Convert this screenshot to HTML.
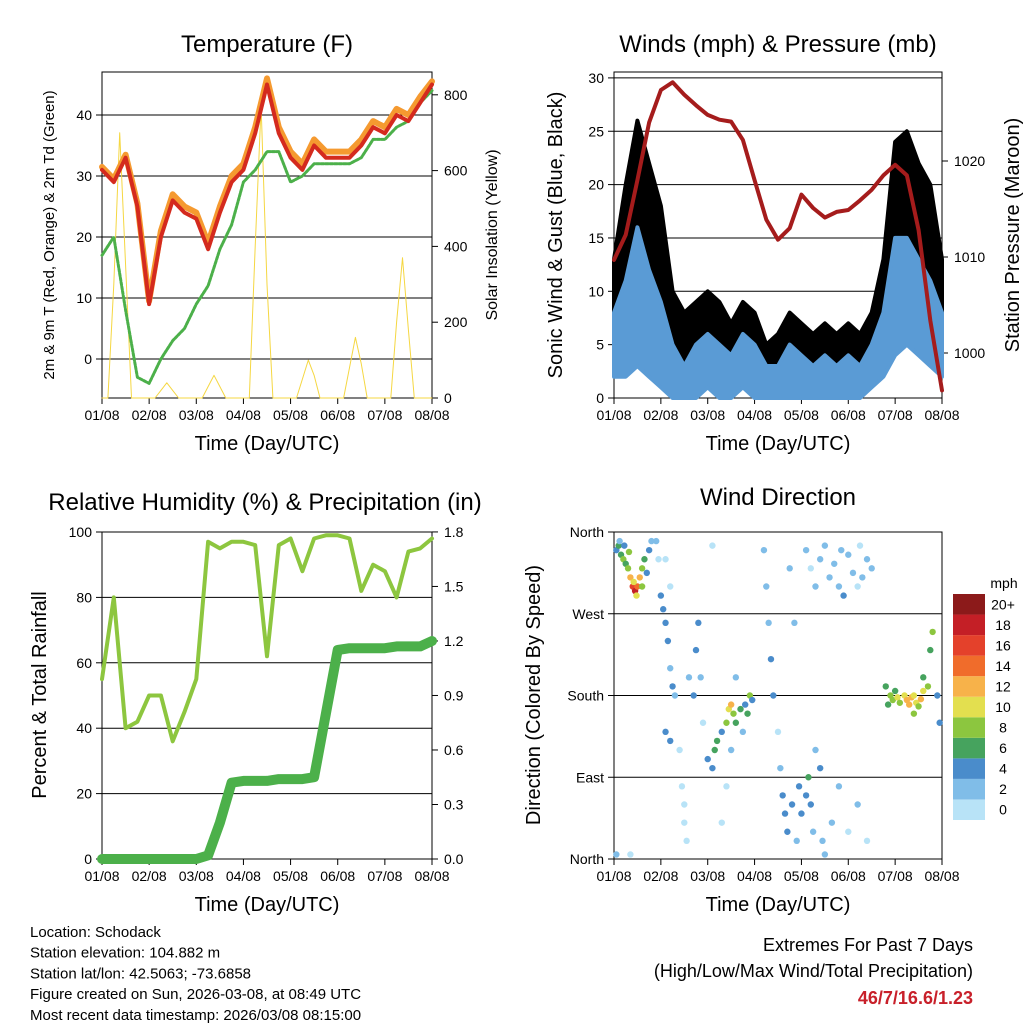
<!DOCTYPE html>
<html><head><meta charset="utf-8"><style>
body{margin:0;background:#fff}
svg{font-family:"Liberation Sans",sans-serif;display:block}
</style></head><body>
<svg id="s" width="1024" height="1024" viewBox="0 0 1024 1024" xmlns="http://www.w3.org/2000/svg"></svg>
<script>
// ---- data (step 0.25 day unless noted) ----
const dayTicks=["01/08","02/08","03/08","04/08","05/08","06/08","07/08","08/08"];
const temp2m=[31,29,33,25,9,20,26,24,23,18,24,29,31,37,45,37,33,31,35,33,33,33,35,38,37,40,39,42,45];
const temp9m=[31.5,29.5,33.5,25.5,9.5,21,27,25,24,19,25,30,32,38,46,38,34,32,36,34,34,34,36,39,38,41,40,43,45.5];
const dewpt=[17,20,8,-3,-4,0,3,5,9,12,18,22,29,31,34,34,29,30,32,32,32,32,33,36,36,38,39,42,44];
// solar at 0.125 day step
const solar=[0,0,300,700,350,0,0,0, 0,0,20,40,20,0,0,0, 0,0,30,60,30,0,0,0, 0,0,400,770,300,0,0,0, 0,0,50,100,60,0,0,0, 0,0,80,160,90,0,0,0, 0,0,200,370,180,0,0,0, 0];
const gustHi=[13,20,26,22,18,10,8,9,10,9,7,9,8,5,6,8,7,6,7,6,7,6,8,13,24,25,22,20,13];
const gustLo=[5,7,8,8,5,3,2,3,3,2,2,3,1,1,1,2,1,1,2,2,2,2,3,5,10,11,9,8,6];
const windHi=[8,11,16,12,9,5,3,5,6,5,4,6,5,3,3,5,4,3,4,3,4,3,5,8,15,15,13,11,8];
const windLo=[2,2,3,2,1,0,0,0,1,0,0,1,0,0,0,0,0,0,0,0,0,0,1,2,4,5,4,3,2];
const pressure=[1009.7,1012.3,1018,1024,1027.4,1028.2,1026.9,1025.8,1024.8,1024.3,1024.1,1022.2,1018,1013.9,1011.8,1013,1016.5,1015.1,1014.1,1014.7,1014.9,1015.9,1017,1018.5,1019.6,1018.5,1012.8,1003.4,996.1];
const rh=[55,80,40,42,50,50,36,45,55,97,95,97,97,96,62,96,98,88,98,99,99,98,82,90,88,80,94,95,98];
const precip=[0,0,0,0,0,0,0,0,0,0.02,0.2,0.42,0.43,0.43,0.43,0.44,0.44,0.44,0.45,0.8,1.15,1.16,1.16,1.16,1.16,1.17,1.17,1.17,1.2];
const wdDay=[0.05,0.1,0.15,0.2,0.25,0.3,0.35,0.4,0.45,0.5,0.55,0.6,0.65,0.7,0.75,0.8,0.12,0.22,0.32,0.42,0.48,0.6,0.05,0.35,
0.9,0.95,1.0,1.05,1.1,1.15,1.2,1.25,1.3,1.1,1.2,1.4,1.45,1.5,1.5,1.55,1.6,1.7,1.75,1.8,1.85,1.9,1.1,1.2,
2.0,2.1,2.15,2.2,2.3,2.4,2.45,2.5,2.55,2.6,2.7,2.8,2.85,2.9,2.95,2.1,2.3,2.4,2.5,2.6,2.75,
3.2,3.25,3.3,3.35,3.4,3.5,3.55,3.6,3.65,3.7,3.8,3.9,3.75,3.85,3.95,4.0,4.1,4.15,4.2,4.25,4.3,4.4,4.45,4.5,
4.1,4.2,4.3,4.4,4.5,4.6,4.7,4.8,4.85,4.9,5.0,5.1,5.2,5.25,5.3,5.4,5.5,5.0,4.8,5.2,5.4,4.65,
5.8,5.85,5.9,5.95,6.0,6.05,6.1,6.2,6.25,6.3,6.35,6.4,6.45,6.5,6.55,6.6,6.7,6.75,6.8,6.9,6.95,6.6,6.4];
const wdDir=[340,345,335,330,325,320,310,300,295,300,310,320,330,315,340,350,350,345,338,305,290,300,5,5,
350,330,290,275,260,240,210,190,180,330,300,120,80,60,40,20,200,180,230,260,200,150,140,130,
110,100,120,130,140,150,165,170,160,150,165,170,160,180,175,345,40,80,120,200,140,
340,300,260,220,180,140,100,70,50,30,60,20,320,260,80,50,70,90,60,30,120,100,20,5,
340,320,300,330,345,310,325,300,340,290,335,315,300,345,310,330,320,30,80,60,20,40,
190,170,180,175,185,178,172,180,175,170,178,180,172,168,176,185,190,230,250,180,150,200,160];
const wdSpd=[4,6,7,8,6,9,12,16,18,14,12,9,7,5,4,3,3,5,8,10,10,8,2,1,
2,1,4,5,4,5,3,4,2,1,1,1,1,0,1,0,3,4,4,4,3,1,5,4,
4,5,6,6,5,8,10,12,9,7,6,5,7,8,4,1,1,1,2,2,3,
2,3,3,4,4,1,2,4,5,4,5,3,2,3,4,4,5,6,4,3,3,4,2,2,
2,1,2,3,2,2,2,3,2,4,2,2,1,1,3,2,2,1,2,2,1,3,
7,6,8,9,7,10,8,11,12,13,12,11,10,9,12,10,8,7,8,5,4,6,9];
const cbLabels=["0","2","4","6","8","10","12","14","16","18","20+"];
const cbColors=["#b8e3f7","#80bde8","#4a8ccb","#46a35e","#8cc63f","#e3df4f","#f7b24a","#f06c2b","#e4412b","#c41f26","#8c1a1a"];

const S=document.getElementById('s');const NS='http://www.w3.org/2000/svg';
function mk(tag,at,parent){const e=document.createElementNS(NS,tag);for(const k in at)e.setAttribute(k,at[k]);(parent||S).appendChild(e);return e;}
function txt(x,y,s,size,name,extra){const e=mk('text',Object.assign({x:x,y:y,'font-size':size,fill:'#000'},extra||{}));e.textContent=s;

return e;}
function line(x1,y1,x2,y2,w,c,name){const e=mk('line',{x1:x1,y1:y1,x2:x2,y2:y2,stroke:c||'#000','stroke-width':w||1});

return e;}
function poly(pts,c,w,name,extra){const e=mk('polyline',Object.assign({points:pts.map(p=>p[0].toFixed(1)+','+p[1].toFixed(1)).join(' '),fill:'none',stroke:c,'stroke-width':w,'stroke-linejoin':'round','stroke-linecap':'round'},extra||{}));

return e;}
function band(hi,lo,xs,y,c,name){const pts=hi.map((v,i)=>[xs(i*0.25),y(v)]).concat(lo.map((v,i)=>[xs(i*0.25),y(v)]).reverse());
 const e=mk('polygon',{points:pts.map(p=>p[0].toFixed(1)+','+p[1].toFixed(1)).join(' '),fill:c,stroke:c,'stroke-width':4,'stroke-linejoin':'round'});
 
 return e;}

function panel(L,R,T,B,title,tx,ty){
  const r=mk('rect',{x:L,y:T,width:R-L,height:B-T,fill:'none',stroke:'#000','stroke-width':1});
  
  
  txt(tx,ty,title,24,'chart-title',{'text-anchor':'middle'});
  const xs=d=>L+d*(R-L)/7;
  dayTicks.forEach((t,i)=>{line(xs(i),B,xs(i),B+6,1,'#000','x-tick');txt(xs(i),B+22,t,14,'x-tick-label',{'text-anchor':'middle'});});
  txt((L+R)/2,B+52,'Time (Day/UTC)',20,'x-axis-title',{'text-anchor':'middle'});
  return xs;
}
// ---- Panel 1 temperature ----
{const L=102,R=432,T=72,B=398;const xs=panel(L,R,T,B,'Temperature (F)',267,52);
 const y=v=>359-v*6.1, ys=v=>398-v*0.379;
 [0,10,20,30,40].forEach(v=>{line(L,y(v),R,y(v),1,'#000','y-gridline');line(L-6,y(v),L,y(v),1,'#000','y-tick');txt(L-10,y(v)+5,String(v),14,'y-tick-label',{'text-anchor':'end'});});
 [0,200,400,600,800].forEach(v=>{line(R,ys(v),R+6,ys(v),1,'#000','y2-tick');txt(R+12,ys(v)+5,String(v),14,'y2-tick-label');});
 poly(solar.map((v,i)=>[xs(i*0.125),ys(v)]),'#f5d742',1,'solar-line');
 poly(dewpt.map((v,i)=>[xs(i*0.25),y(v)]),'#4cb04a',3,'dewpoint-line',{'stroke-dasharray':'3 1.5'});
 poly(temp9m.map((v,i)=>[xs(i*0.25),y(v)]),'#f59a30',6,'temp-9m-line');
 poly(temp2m.map((v,i)=>[xs(i*0.25),y(v)]),'#d42a1e',4,'temp-2m-line');
 txt(0,0,'2m & 9m T (Red, Orange) & 2m Td (Green)',15,'y-axis-title',{'text-anchor':'middle',transform:'translate(54,235) rotate(-90)'});
 txt(0,0,'Solar Insolation (Yellow)',16,'y2-axis-title',{'text-anchor':'middle',transform:'translate(497,235) rotate(-90)'});}
// ---- Panel 2 winds ----
{const L=614,R=942,T=72,B=398;const xs=panel(L,R,T,B,'Winds (mph) & Pressure (mb)',778,52);
 const y=v=>398-v*10.67, yp=v=>353-(v-1000)*9.6;
 [0,5,10,15,20,25,30].forEach(v=>{if(v>0)line(L,y(v),R,y(v),1,'#000','y-gridline');line(L-6,y(v),L,y(v),1,'#000','y-tick');txt(L-10,y(v)+5,String(v),14,'y-tick-label',{'text-anchor':'end'});});
 [1000,1010,1020].forEach(v=>{line(R,yp(v),R+6,yp(v),1,'#000','y2-tick');txt(R+12,yp(v)+5,String(v),14,'y2-tick-label');});
 band(gustHi,gustLo,xs,y,'#000','gust-band');
 band(windHi,windLo,xs,y,'#5a9bd5','wind-band');
 poly(pressure.map((v,i)=>[xs(i*0.25),yp(v)]),'#a51c1c',4,'pressure-line');
 txt(0,0,'Sonic Wind & Gust (Blue, Black)',20,'y-axis-title',{'text-anchor':'middle',transform:'translate(562,235) rotate(-90)'});
 txt(0,0,'Station Pressure (Maroon)',20,'y2-axis-title',{'text-anchor':'middle',transform:'translate(1019,235) rotate(-90)'});}
// ---- Panel 3 RH ----
{const L=102,R=432,T=532,B=859;const xs=panel(L,R,T,B,'Relative Humidity (%) & Precipitation (in)',265,510);
 const y=v=>859-v*3.27, yp=v=>859-v*181.7;
 [0,20,40,60,80,100].forEach(v=>{if(v>0&&v<100)line(L,y(v),R,y(v),1,'#000','y-gridline');line(L-6,y(v),L,y(v),1,'#000','y-tick');txt(L-10,y(v)+5,String(v),14,'y-tick-label',{'text-anchor':'end'});});
 [0,0.3,0.6,0.9,1.2,1.5,1.8].forEach(v=>{line(R,yp(v),R+6,yp(v),1,'#000','y2-tick');txt(R+12,yp(v)+5,v.toFixed(1),14,'y2-tick-label');});
 poly(rh.map((v,i)=>[xs(i*0.25),y(v)]),'#8dc63f',4,'rh-line');
 poly(precip.map((v,i)=>[xs(i*0.25),yp(v)]),'#4cb04a',10,'precip-line');
 txt(0,0,'Percent & Total Rainfall',20,'y-axis-title',{'text-anchor':'middle',transform:'translate(46,695) rotate(-90)'});}
// ---- Panel 4 wind direction ----
{const L=614,R=942,T=532,B=859;const xs=panel(L,R,T,B,'Wind Direction',778,505);
 const y=v=>859-v*(327/360);
 [[0,'North'],[90,'East'],[180,'South'],[270,'West'],[360,'North']].forEach(([v,l])=>{if(v>0&&v<360)line(L,y(v),R,y(v),1,'#000','y-gridline');line(L-6,y(v),L,y(v),1,'#000','y-tick');txt(L-10,y(v)+5,l,14,'y-tick-label',{'text-anchor':'end'});});
 wdDay.forEach((d,i)=>{const bin=Math.min(10,Math.floor(wdSpd[i]/2));const c=mk('circle',{cx:xs(d),cy:y(wdDir[i]),r:3.2,fill:cbColors[bin]});
  
  });
 txt(0,0,'Direction (Colored By Speed)',20,'y-axis-title',{'text-anchor':'middle',transform:'translate(540,695) rotate(-90)'});
 txt(1004,588,'mph',14,'colorbar-title',{'text-anchor':'middle'});
 const h=226/11;
 cbLabels.forEach((l,i)=>{const yy=820-(i+1)*h;const r=mk('rect',{x:953,y:yy,width:32,height:h,fill:cbColors[i]});
  
  
  txt(1003,yy+h/2+5,l,14,'colorbar-label',{'text-anchor':'middle'});});}
// ---- footer ----
["Location: Schodack","Station elevation: 104.882 m","Station lat/lon: 42.5063; -73.6858","Figure created on Sun, 2026-03-08, at 08:49 UTC","Most recent data timestamp: 2026/03/08 08:15:00"].forEach((s,i)=>txt(30,937+i*20.7,s,15,'station-info'));
txt(973,951,'Extremes For Past 7 Days',18,'extremes-title',{'text-anchor':'end'});
txt(973,977,'(High/Low/Max Wind/Total Precipitation)',18,'extremes-subtitle',{'text-anchor':'end'});
txt(973,1004,'46/7/16.6/1.23',18,'extremes-values',{'text-anchor':'end',fill:'#c8202a','font-weight':'bold'});
</script>
</body></html>
